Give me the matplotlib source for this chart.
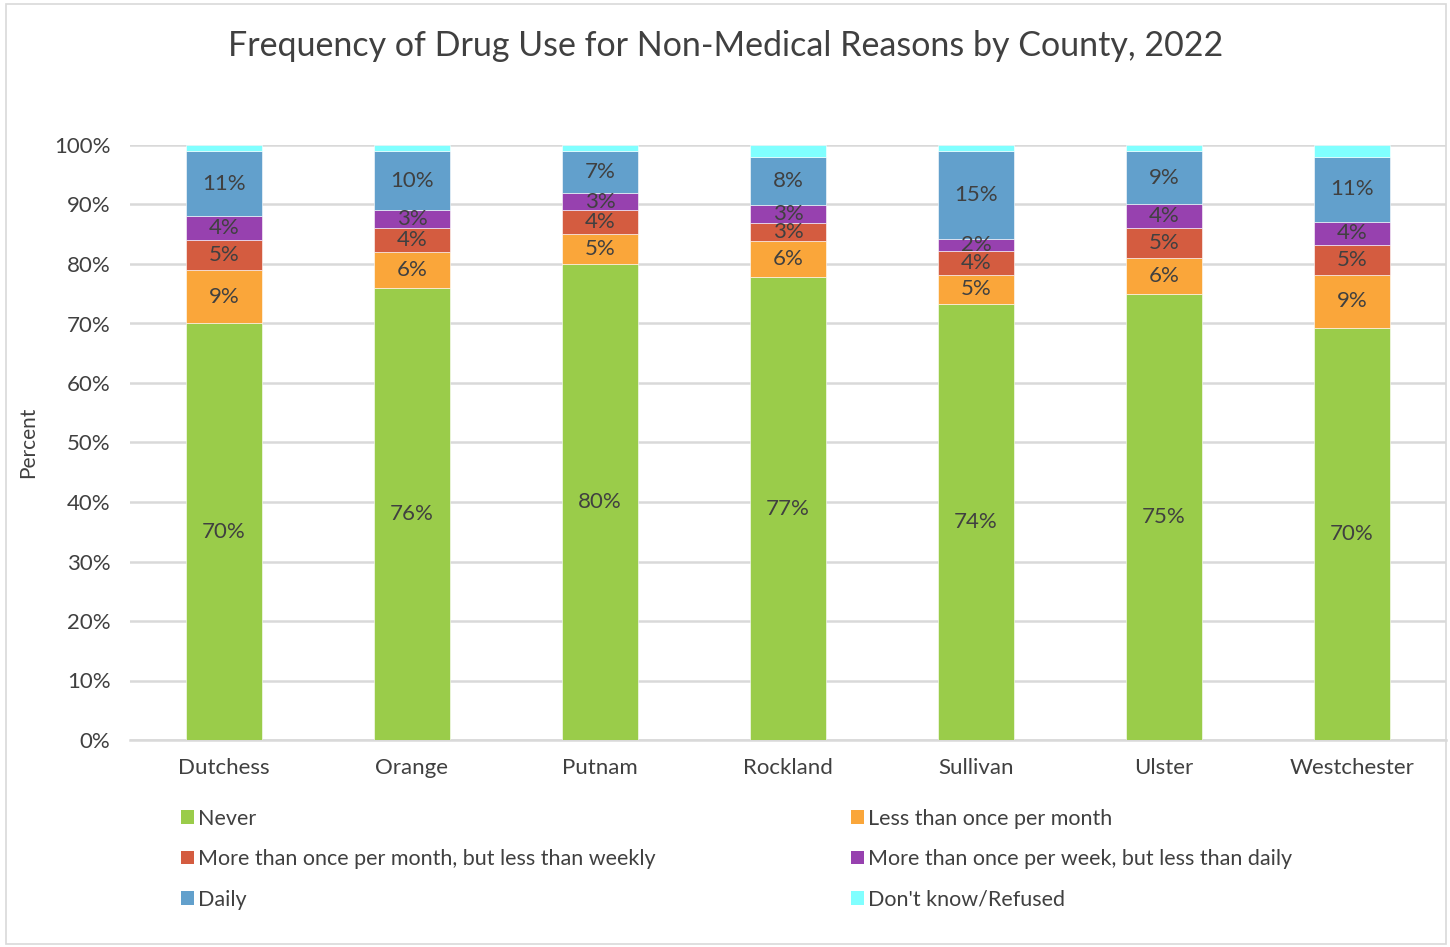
import matplotlib
matplotlib.use("Agg")
import matplotlib.pyplot as plt
import numpy as np
from matplotlib.patches import Rectangle, Patch

counties = ["Dutchess", "Orange", "Putnam", "Rockland", "Sullivan", "Ulster", "Westchester"]
series_names = ["Never", "Less than once per month",
                "More than once per month, but less than weekly",
                "More than once per week, but less than daily",
                "Daily", "Don't know/Refused"]
never = [70, 76, 80, 77, 74, 75, 70]
less_monthly = [9, 6, 5, 6, 5, 6, 9]
monthly_not_weekly = [5, 4, 4, 3, 4, 5, 5]
weekly_not_daily = [4, 3, 3, 3, 2, 4, 4]
daily = [11, 10, 7, 8, 15, 9, 11]
dont_know = [1, 1, 1, 2, 1, 1, 2]
yticks = [0, 10, 20, 30, 40, 50, 60, 70, 80, 90, 100]

colors = ["#9ACC4A", "#FAA63A", "#D45C40", "#9741AF", "#62A0CC", "#80FFFF"]
text_color = "#404040"
plt.rcParams['font.family'] = ['Lato', 'DejaVu Sans']

data = np.array([never, less_monthly, monthly_not_weekly, weekly_not_daily, daily, dont_know], dtype=float)
totals = data.sum(axis=0)
pct = data / totals * 100

fig = plt.figure(figsize=(14.5, 9.47), dpi=100)
fig.patches.append(Rectangle((6/1450, 3/947), 1440/1450, 940/947, transform=fig.transFigure,
                             fill=False, edgecolor="#d9d9d9", linewidth=1.2))
ax = fig.add_axes([130/1450, (947-740)/947, (1446-130)/1450, 595/947])

x = np.arange(len(counties))
bottom = np.zeros(len(counties))
for i in range(len(series_names)):
    ax.bar(x, pct[i], bottom=bottom, width=0.4, color=colors[i], edgecolor="white", linewidth=0.4, zorder=3)
    if i < 5:
        for j in range(len(counties)):
            ax.text(x[j], bottom[j] + pct[i][j] / 2, f"{int(data[i][j])}%", ha="center", va="center",
                    fontsize=16, color=text_color, zorder=4)
    bottom += pct[i]

ax.set_xlim(-0.5, len(counties) - 0.5)
ax.set_ylim(0, 100)
ax.set_yticks(yticks)
ax.set_yticklabels([f"{t}%" for t in yticks])
ax.set_xticks(x)
ax.set_xticklabels(counties)
ax.tick_params(axis="both", length=0, labelsize=16, colors=text_color)
ax.tick_params(axis="y", pad=14)
ax.tick_params(axis="x", pad=13)
ax.grid(axis="y", color="#d9d9d9", linewidth=1.8, zorder=0)
for s in ["top", "right", "left"]:
    ax.spines[s].set_visible(False)
ax.spines["bottom"].set_color("#d9d9d9")
ax.spines["bottom"].set_linewidth(1.8)
ax.set_ylabel("Percent", fontsize=15, color=text_color)
ax.yaxis.set_label_coords(-0.07, 0.5)

fig.text(726/1450, 1 - 46/947, "Frequency of Drug Use for Non-Medical Reasons by County, 2022",
         ha="center", va="center", fontsize=24.5, color=text_color)

handles = [Patch(facecolor=c, edgecolor="none") for c in colors]
left_idx = [0, 2, 4]
right_idx = [1, 3, 5]
for idxs, xpos in [(left_idx, 172/1450), (right_idx, 842/1450)]:
    leg = fig.legend([handles[i] for i in idxs], [series_names[i] for i in idxs],
                     loc="upper left", bbox_to_anchor=(xpos, 1 - 800/947), frameon=False,
                     fontsize=15.5, labelcolor=text_color, handlelength=0.6, handleheight=0.6,
                     handletextpad=0.2, labelspacing=0.95, borderaxespad=0)

fig.savefig("out.png", dpi=100)
